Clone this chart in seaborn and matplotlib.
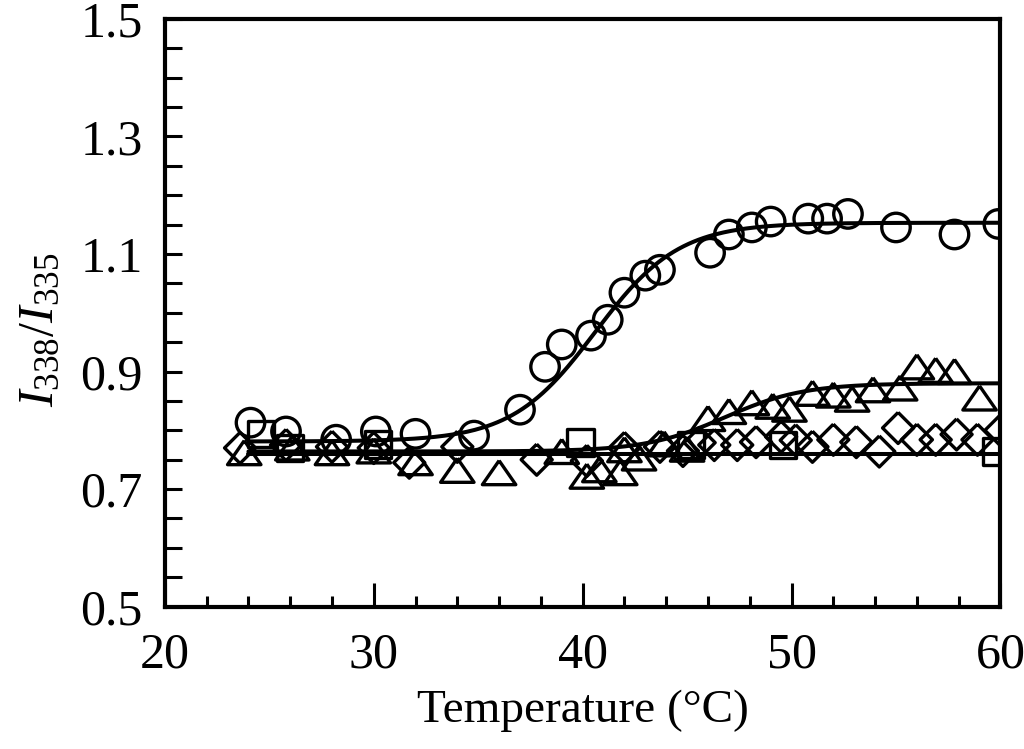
"""
I338/I335 ratio vs temperature, four samples with Boltzmann fits
"""
import matplotlib
matplotlib.use("Agg")
import matplotlib.pyplot as plt
from matplotlib.ticker import MultipleLocator, FormatStrFormatter
import seaborn as sns
import numpy as np

# ---- data ----
circle_x = [24.1, 25.8, 28.2, 30.1, 32.0, 34.8, 37.0, 38.2, 39.0, 40.4, 41.2, 42.0,
            43.0, 43.7, 46.1, 47.0, 48.1, 49.0, 50.8, 51.7, 52.7, 55.0, 57.8, 59.9]
circle_y = [0.813, 0.798, 0.784, 0.798, 0.794, 0.791, 0.835, 0.908, 0.946, 0.961, 0.988, 1.034,
            1.063, 1.073, 1.102, 1.133, 1.145, 1.155, 1.160, 1.160, 1.168, 1.145, 1.133, 1.151]

tri_x = [23.8, 26.1, 28.0, 30.0, 32.0, 34.0, 36.0, 39.0, 40.2, 40.8, 41.8, 42.0, 42.7,
         43.9, 45.0, 46.0, 47.0, 48.1, 49.1, 49.9, 51.0, 52.0, 52.9, 53.9, 55.2,
         56.0, 56.9, 57.8, 59.0]
tri_y = [0.762, 0.770, 0.762, 0.765, 0.745, 0.732, 0.728, 0.764, 0.722, 0.733, 0.728, 0.767, 0.753,
         0.777, 0.768, 0.820, 0.832, 0.847, 0.841, 0.836, 0.863, 0.860, 0.853, 0.869, 0.872,
         0.908, 0.902, 0.900, 0.855]

dia_x = [23.6, 25.8, 28.0, 30.0, 31.7, 34.0, 37.8, 40.2, 42.0, 43.7, 44.8, 45.6, 46.3, 47.4,
         48.3, 49.5, 50.2, 51.0, 52.0, 53.1, 54.2, 55.1, 56.0, 56.9, 57.9, 58.9, 60.0]
dia_y = [0.770, 0.775, 0.772, 0.770, 0.745, 0.772, 0.750, 0.748, 0.770, 0.772, 0.765, 0.779, 0.775, 0.775,
         0.780, 0.789, 0.783, 0.772, 0.784, 0.780, 0.764, 0.804, 0.784, 0.784, 0.793, 0.784, 0.800]

sq_x = [24.6, 26.0, 30.2, 39.9, 45.2, 49.6, 59.8]
sq_y = [0.794, 0.770, 0.776, 0.779, 0.775, 0.775, 0.764]

# Boltzmann fit parameters (A1, A2, x0, dx)
circle_fit = (0.781, 1.153, 40.6, 2.0)
tri_fit = (0.764, 0.880, 46.8, 1.9)
flat_level = 0.759
fit_range = (24.0, 60.0)


def boltzmann(x, a1, a2, x0, dx):
    return a2 + (a1 - a2) / (1 + np.exp((x - x0) / dx))


sns.set_theme(style="white")
plt.rcParams["font.family"] = ["Liberation Serif", "DejaVu Serif"]
plt.rcParams["mathtext.fontset"] = "custom"
plt.rcParams["mathtext.rm"] = "Liberation Serif"
plt.rcParams["mathtext.it"] = "Liberation Serif:italic"
plt.rcParams["text.color"] = "black"
plt.rcParams["axes.labelcolor"] = "black"
plt.rcParams["xtick.color"] = "black"
plt.rcParams["ytick.color"] = "black"

fig = plt.figure(figsize=(10.24, 7.49), dpi=100)
ax = fig.add_axes([0.161, 0.19, 0.816, 0.785])

xs = np.linspace(*fit_range, 300)
line_kw = dict(color="black", linewidth=2.9, ax=ax, legend=False)
sns.lineplot(x=xs, y=boltzmann(xs, *circle_fit), **line_kw)
sns.lineplot(x=xs, y=boltzmann(xs, *tri_fit), **line_kw)
sns.lineplot(x=list(fit_range), y=[flat_level, flat_level], **line_kw)

tri_marker = [(0, 0.72), (-1, -0.72), (1, -0.72), (0, 0.72)]
dia_marker = [(0, 1), (1, 0), (0, -1), (-1, 0), (0, 1)]
pt_kw = dict(facecolor="none", edgecolor="black", linewidth=2.4, ax=ax, legend=False, zorder=3)
sns.scatterplot(x=sq_x, y=sq_y, marker="s", s=360, **pt_kw)
sns.scatterplot(x=dia_x, y=dia_y, marker=dia_marker, s=500, **pt_kw)
sns.scatterplot(x=tri_x, y=tri_y, marker=tri_marker, s=580, **pt_kw)
sns.scatterplot(x=circle_x, y=circle_y, marker="o", s=420, **pt_kw)

ax.set_xlim(20, 60)
ax.set_ylim(0.5, 1.5)
ax.xaxis.set_major_locator(MultipleLocator(10))
ax.xaxis.set_minor_locator(MultipleLocator(2))
ax.set_yticks([0.5, 0.7, 0.9, 1.1, 1.3, 1.5])
ax.yaxis.set_minor_locator(MultipleLocator(0.05))
ax.yaxis.set_major_formatter(FormatStrFormatter("%.1f"))

ax.tick_params(axis="both", which="both", direction="in", color="black",
               labelsize=36, width=2.2, bottom=True, left=True, top=False, right=False)
ax.tick_params(axis="x", which="major", length=17, pad=18)
ax.tick_params(axis="x", which="minor", length=8)
ax.tick_params(axis="y", which="major", length=12, pad=16)
ax.tick_params(axis="y", which="minor", length=12)

for sp in ax.spines.values():
    sp.set_linewidth(3.0)
    sp.set_color("black")

ax.set_xlabel("Temperature (°C)", fontsize=34, labelpad=8)
ax.set_ylabel(r"$I_{\mathrm{338}}/I_{\mathrm{335}}$", fontsize=36)
ax.yaxis.set_label_coords(-0.12, 0.47)

fig.savefig("out.png", dpi=100)
